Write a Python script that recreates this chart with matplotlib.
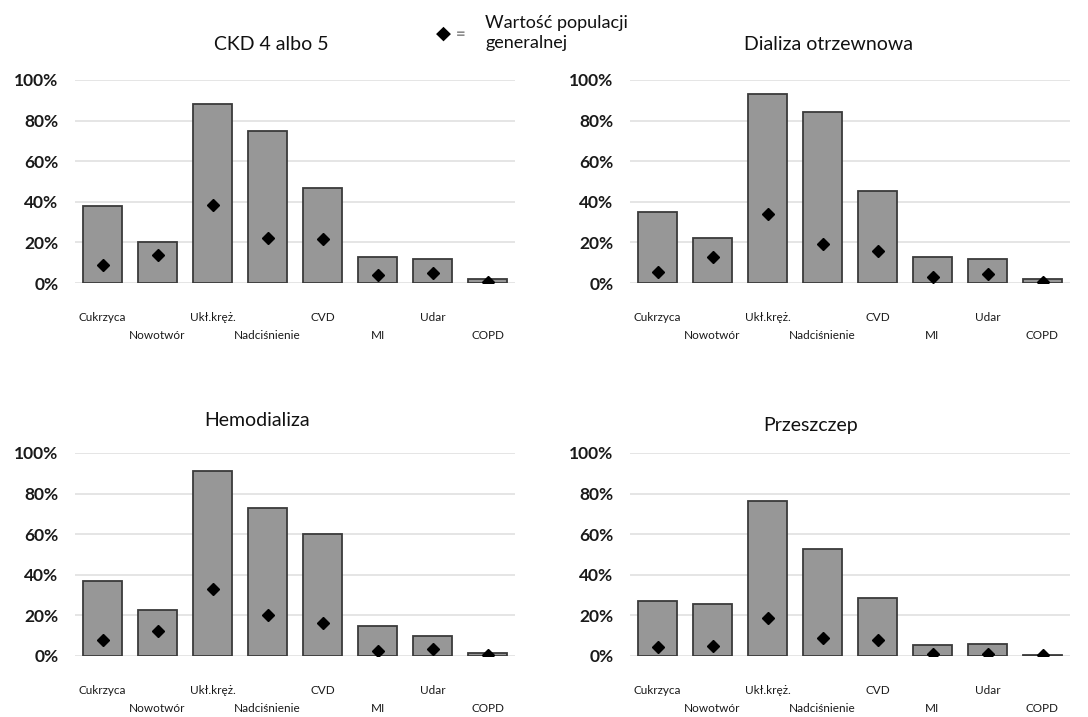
import numpy as np
import matplotlib
matplotlib.use('Agg')
import matplotlib.pyplot as plt
from matplotlib.ticker import PercentFormatter

plt.rcParams['font.family'] = ['Lato', 'DejaVu Sans']

categories = ['Cukrzyca', 'Nowotwór', 'Ukł.kręż.', 'Nadciśnienie', 'CVD', 'MI', 'Udar', 'COPD']

titles = ['CKD 4 albo 5', 'Dializa otrzewnowa', 'Hemodializa', 'Przeszczep']

# bar values (%)
ckd_bars   = [38, 20, 88, 75, 47, 13, 12, 2]
pd_bars    = [35, 22, 93, 84, 45.5, 13, 12, 2]
hd_bars    = [37, 22.5, 91, 73, 60, 15, 10, 1.6]
tx_bars    = [27, 25.5, 76.5, 52.5, 28.5, 5.5, 6, 0.5]

# general population values (%)
ckd_pop = [9, 14, 38.5, 22, 21.5, 4, 5, 0.5]
pd_pop  = [5.5, 13, 34, 19, 16, 3, 4.5, 0.5]
hd_pop  = [8, 12.5, 33, 20, 16.5, 2.5, 3.5, 0.5]
tx_pop  = [4.5, 5, 18.5, 9, 8, 1, 1.2, 0.3]

legend_text = 'Wartość populacji\ngeneralnej'

bars = [ckd_bars, pd_bars, hd_bars, tx_bars]
pops = [ckd_pop, pd_pop, hd_pop, tx_pop]

fig = plt.figure(figsize=(10.88, 7.17), dpi=100)

W, H = 1088, 717
# axes boxes in pixels: left, top, right, bottom
boxes = [(75, 80, 515, 283), (630, 80, 1070, 283),
         (75, 453, 515, 656), (630, 453, 1070, 656)]
title_pos = [(271, 45), (828, 45), (257, 420), (811, 425)]

x = np.arange(len(categories))
for i in range(4):
    l, t, r, b = boxes[i]
    ax = fig.add_axes([l / W, 1 - b / H, (r - l) / W, (b - t) / H])
    ax.bar(x, np.array(bars[i]) / 100, width=0.7, color='#979797',
           edgecolor='#3a3a3a', linewidth=1.3, zorder=2)
    ax.plot(x, np.array(pops[i]) / 100, 'D', color='black', ms=6.5, zorder=3)
    ax.set_xlim(-0.5, 7.5)
    ax.set_ylim(0, 1)
    ax.set_yticks(np.arange(0, 1.01, 0.2))
    ax.yaxis.set_major_formatter(PercentFormatter(1.0, decimals=0))
    ax.grid(axis='y', color='#e0e0e0', linewidth=1.2, zorder=0)
    for s in ax.spines.values():
        s.set_visible(False)
    ax.tick_params(axis='y', length=0, pad=12, labelsize=12.5, labelcolor='#1a1a1a')
    for lab in ax.get_yticklabels():
        lab.set_fontweight('bold')
    ax.set_xticks(x)
    ax.set_xticklabels(categories, fontsize=8.5, color='#1a1a1a')
    ax.tick_params(axis='x', length=0)
    for j, tick in enumerate(ax.xaxis.get_major_ticks()):
        tick.set_pad(21 if j % 2 == 0 else 34)
    tx, ty = title_pos[i]
    fig.text(tx / W, 1 - ty / H, titles[i], ha='center', va='center',
             fontsize=14, color='#111111')

# legend
fig.text(443 / W, 1 - 33 / H, '\u25C6', ha='center', va='center', fontsize=14,
         family=['DejaVu Sans'], color='black')
fig.text(461 / W, 1 - 34 / H, '=', ha='center', va='center', fontsize=12,
         color='#8a8a8a', fontweight='bold')
fig.text(485 / W, 1 - 33 / H, legend_text, ha='left', va='center',
         fontsize=13, color='#111111', linespacing=1.3)

fig.savefig('out.png', dpi=100)
